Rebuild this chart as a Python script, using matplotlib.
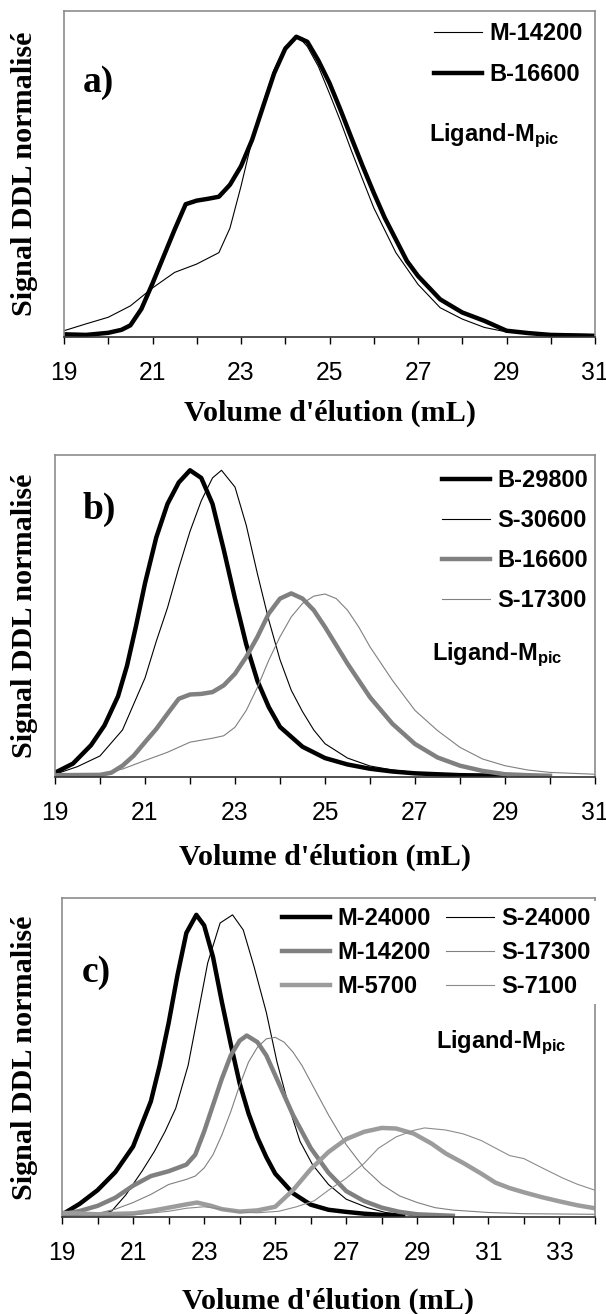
import matplotlib
matplotlib.use('Agg')
import matplotlib.pyplot as plt

plt.rcParams['font.family'] = 'Liberation Sans'
plt.rcParams['mathtext.fontset'] = 'custom'
plt.rcParams['mathtext.rm'] = 'Liberation Sans:bold'
plt.rcParams['mathtext.it'] = 'Liberation Sans:bold'
plt.rcParams['mathtext.bf'] = 'Liberation Sans:bold'

# ---- panel a) ----
b16600_a_x = [19.0, 19.5, 20.0, 20.3, 20.5, 20.75, 21.0, 21.25, 21.5, 21.75, 22.0, 22.25, 22.5, 22.75,
              23.0, 23.25, 23.5, 23.75, 24.0, 24.25, 24.5, 24.75, 25.0, 25.25, 25.5, 25.75, 26.0,
              26.25, 26.5, 26.75, 27.0, 27.5, 28.0, 28.5, 29.0, 29.5, 30.0, 31.0]
b16600_a_y = [0.005, 0.003, 0.01, 0.02, 0.035, 0.09, 0.175, 0.265, 0.355, 0.44, 0.452, 0.458, 0.465, 0.505,
              0.567, 0.655, 0.767, 0.878, 0.96, 1.0, 0.983, 0.92, 0.845, 0.755, 0.66, 0.567, 0.478,
              0.394, 0.322, 0.25, 0.2, 0.122, 0.078, 0.05, 0.017, 0.009, 0.003, 0.0]
m14200_a_x = [19.0, 19.5, 20.0, 20.5, 21.0, 21.5, 22.0, 22.5, 22.75, 23.0, 23.25, 23.5, 23.75, 24.0,
              24.3, 24.5, 24.75, 25.0, 25.25, 25.5, 25.75, 26.0, 26.5, 27.0, 27.5, 28.0, 28.5, 29.0,
              30.0, 31.0]
m14200_a_y = [0.017, 0.04, 0.062, 0.1, 0.16, 0.212, 0.24, 0.278, 0.36, 0.5, 0.655, 0.778, 0.89, 0.967,
              1.0, 0.967, 0.9, 0.81, 0.717, 0.617, 0.522, 0.428, 0.278, 0.172, 0.094, 0.056, 0.028, 0.013,
              0.006, 0.004]

# ---- panel b) ----
b29800_x = [19.0, 19.4, 19.8, 20.1, 20.4, 20.6, 20.8, 21.0, 21.25, 21.5, 21.75, 22.0, 22.25, 22.5,
            22.75, 23.0, 23.25, 23.5, 23.75, 24.0, 24.5, 25.0, 25.5, 26.0, 26.5, 27.0, 28.0, 29.0]
b29800_y = [0.01, 0.04, 0.1, 0.165, 0.26, 0.36, 0.49, 0.63, 0.78, 0.89, 0.96, 1.0, 0.975, 0.89,
            0.74, 0.58, 0.43, 0.31, 0.225, 0.16, 0.095, 0.058, 0.037, 0.023, 0.014, 0.008, 0.002, 0.0]
s30600_x = [19.0, 19.5, 20.0, 20.5, 21.0, 21.25, 21.5, 21.75, 22.0, 22.25, 22.5, 22.7, 23.0, 23.25,
            23.5, 23.75, 24.0, 24.25, 24.5, 24.75, 25.0, 25.5, 26.0, 26.5, 27.0, 28.0, 29.0]
s30600_y = [0.005, 0.03, 0.065, 0.15, 0.32, 0.44, 0.55, 0.68, 0.8, 0.9, 0.975, 1.0, 0.945, 0.82,
            0.66, 0.51, 0.38, 0.28, 0.21, 0.15, 0.105, 0.058, 0.032, 0.019, 0.011, 0.003, 0.0]
b16600_b_x = [19.0, 20.0, 20.25, 20.5, 20.75, 21.0, 21.25, 21.5, 21.75, 22.0, 22.25, 22.5, 22.75, 23.0,
              23.25, 23.5, 23.75, 24.0, 24.25, 24.5, 24.75, 25.0, 25.25, 25.5, 26.0, 26.5, 27.0, 27.5,
              28.0, 28.5, 29.0, 29.5, 30.0]
b16600_b_y = [0.002, 0.003, 0.01, 0.033, 0.066, 0.11, 0.153, 0.203, 0.252, 0.266, 0.268, 0.274, 0.296, 0.334,
              0.389, 0.455, 0.531, 0.58, 0.597, 0.58, 0.542, 0.487, 0.427, 0.367, 0.257, 0.17, 0.104, 0.06,
              0.033, 0.016, 0.005, 0.002, 0.0]
s17300_b_x = [19.0, 20.0, 20.5, 21.0, 21.5, 22.0, 22.5, 22.75, 23.0, 23.25, 23.5, 23.75, 24.0, 24.25,
              24.5, 24.75, 25.0, 25.25, 25.5, 25.75, 26.0, 26.5, 27.0, 27.5, 28.0, 28.5, 29.0, 29.5,
              30.0, 30.5, 31.0]
s17300_b_y = [0.002, 0.005, 0.022, 0.05, 0.077, 0.11, 0.123, 0.131, 0.159, 0.214, 0.29, 0.378, 0.455, 0.52,
              0.564, 0.588, 0.595, 0.58, 0.542, 0.487, 0.422, 0.312, 0.214, 0.148, 0.093, 0.055, 0.033, 0.019,
              0.011, 0.008, 0.005]

# ---- panel c) ----
m24000_x = [19.0, 19.5, 20.0, 20.5, 21.0, 21.5, 21.75, 22.0, 22.25, 22.5, 22.78, 23.0, 23.25, 23.5,
            23.75, 24.0, 24.25, 24.5, 24.75, 25.0, 25.5, 26.0, 26.5, 27.0, 27.5, 28.0, 28.6]
m24000_y = [0.004, 0.04, 0.085, 0.145, 0.23, 0.38, 0.5, 0.64, 0.8, 0.94, 1.0, 0.965, 0.86, 0.71,
            0.57, 0.44, 0.34, 0.26, 0.195, 0.14, 0.075, 0.037, 0.02, 0.013, 0.007, 0.003, 0.0]
s24000_x = [19.0, 20.0, 20.4, 20.8, 21.25, 21.6, 21.9, 22.2, 22.55, 22.8, 23.1, 23.45, 23.8, 24.1,
            24.4, 24.75, 25.05, 25.4, 25.7, 26.05, 26.5, 27.0, 27.6, 28.1, 29.0]
s24000_y = [0.0, 0.003, 0.016, 0.07, 0.148, 0.214, 0.28, 0.357, 0.5, 0.654, 0.84, 0.973, 1.0, 0.95,
            0.83, 0.676, 0.511, 0.357, 0.247, 0.17, 0.104, 0.055, 0.027, 0.011, 0.0]
m14200_c_x = [19.0, 19.5, 20.0, 20.5, 21.0, 21.5, 22.0, 22.5, 22.75, 23.0, 23.25, 23.5, 23.75, 24.0,
              24.2, 24.5, 24.75, 25.0, 25.25, 25.5, 26.0, 26.5, 27.0, 27.5, 28.0, 28.5, 29.0, 30.0]
m14200_c_y = [0.005, 0.016, 0.033, 0.06, 0.1, 0.132, 0.148, 0.17, 0.203, 0.28, 0.368, 0.456, 0.533, 0.582,
              0.599, 0.577, 0.533, 0.467, 0.401, 0.335, 0.225, 0.143, 0.082, 0.049, 0.027, 0.013, 0.005, 0.0]
s17300_c_x = [19.0, 20.0, 20.5, 21.0, 21.5, 22.0, 22.5, 22.75, 23.0, 23.25, 23.5, 23.75, 24.0, 24.25,
              24.5, 24.75, 25.0, 25.25, 25.5, 25.75, 26.0, 26.5, 27.0, 27.5, 28.0, 28.5, 29.0, 29.5,
              30.0, 31.0, 32.0, 34.0]
s17300_c_y = [0.0, 0.008, 0.022, 0.044, 0.071, 0.104, 0.121, 0.132, 0.159, 0.203, 0.269, 0.346, 0.434, 0.511,
              0.56, 0.588, 0.593, 0.577, 0.544, 0.5, 0.445, 0.335, 0.236, 0.159, 0.104, 0.066, 0.044, 0.027,
              0.019, 0.011, 0.007, 0.005]
m5700_x = [19.0, 20.0, 21.0, 21.5, 22.0, 22.5, 22.8, 23.2, 23.5, 24.0, 24.5, 25.0, 25.5, 26.0, 26.5,
           27.0, 27.5, 28.0, 28.4, 28.9, 29.4, 29.8, 30.3, 30.8, 31.2, 31.6, 32.0, 32.5, 33.0, 33.5, 34.0]
m5700_y = [0.01, 0.005, 0.008, 0.016, 0.027, 0.038, 0.044, 0.033, 0.022, 0.014, 0.018, 0.03, 0.085, 0.155,
           0.212, 0.255, 0.279, 0.292, 0.29, 0.273, 0.24, 0.207, 0.175, 0.14, 0.11, 0.092, 0.078, 0.062,
           0.048, 0.035, 0.025]
s7100_x = [19.0, 20.0, 21.0, 22.0, 22.5, 23.0, 23.5, 24.0, 24.5, 25.1, 25.6, 26.1, 26.5, 27.0, 27.5,
           27.9, 28.4, 28.9, 29.2, 29.8, 30.3, 30.8, 31.2, 31.6, 32.0, 32.5, 33.1, 33.5, 34.0]
s7100_y = [0.0, 0.0, 0.003, 0.015, 0.025, 0.03, 0.022, 0.012, 0.01, 0.015, 0.03, 0.05, 0.085, 0.125, 0.174,
           0.224, 0.262, 0.284, 0.292, 0.285, 0.272, 0.25, 0.225, 0.2, 0.19, 0.16, 0.125, 0.105, 0.085]

W, H = 606, 1314
fig = plt.figure(figsize=(W / 100, H / 100), dpi=100)

serif = dict(family='Liberation Serif', weight='bold')
leg_font = {'family': 'Liberation Sans', 'weight': 'bold', 'size': 17}
THICK, THIN = 3.2, 0.8


def make_axes(left, right, top, bottom, xmax, ymax, xpad, tag, tag_xy, lig_xy):
    ax = fig.add_axes([left / W, 1 - bottom / H, (right - left) / W, (bottom - top) / H])
    ax.set_xlim(19, xmax)
    ax.set_ylim(-0.004, ymax)
    ax.set_xticks(list(range(19, xmax + 1, 2)))
    ax.set_xticks(list(range(19, xmax + 1)), minor=True)
    ax.tick_params(axis='x', which='both', direction='out', length=5, width=1, color='black',
                   labelsize=17.7, pad=12.5)
    ax.set_yticks([])
    for s in ['top', 'right', 'left']:
        ax.spines[s].set_color('#8c8c8c')
        ax.spines[s].set_linewidth(1.2)
    ax.spines['bottom'].set_color('#303030')
    ax.spines['bottom'].set_linewidth(1.2)
    ax.set_xlabel("Volume d'élution (mL)", fontsize=21.7, labelpad=xpad, **serif)
    fig.text(25 / W, 1 - (top + bottom) / 2 / H, 'Signal DDL normalisé', rotation=90,
             ha='center', va='center', fontsize=21.7, **serif)
    ax.text(tag_xy[0], tag_xy[1], tag, transform=ax.transAxes, ha='center', va='center',
            fontsize=27, **serif)
    ax.text(lig_xy[0], lig_xy[1], r'Ligand-M$_{\mathrm{pic}}$', transform=ax.transAxes,
            ha='left', va='baseline', fontsize=17, fontweight='bold')
    return ax


# a)
ax = make_axes(64, 595, 11, 337, 31, 1.086, 10, 'a)', (0.064, 0.782), (0.687, 0.6))
h2, = ax.plot(b16600_a_x, b16600_a_y, color='black', lw=THICK, label='B-16600')
h1, = ax.plot(m14200_a_x, m14200_a_y, color='black', lw=THIN, label='M-14200')
ax.legend(handles=[h1, h2], loc='upper right', bbox_to_anchor=(0.977, 0.965), frameon=False,
          prop=leg_font, handlelength=2.03, handletextpad=0.3, labelspacing=0.76,
          borderpad=0, borderaxespad=0)

# b)
ax = make_axes(55, 595, 455, 777, 31, 1.05, 13, 'b)', (0.082, 0.832), (0.698, 0.362))
h1, = ax.plot(b29800_x, b29800_y, color='black', lw=THICK, label='B-29800')
h2, = ax.plot(s30600_x, s30600_y, color='black', lw=THIN, label='S-30600')
h3, = ax.plot(b16600_b_x, b16600_b_y, color='#808080', lw=THICK, label='B-16600')
h4, = ax.plot(s17300_b_x, s17300_b_y, color='#808080', lw=THIN, label='S-17300')
ax.legend(handles=[h1, h2, h3, h4], loc='upper right', bbox_to_anchor=(0.987, 0.955), frameon=False,
          prop=leg_font, handlelength=2.03, handletextpad=0.3, labelspacing=0.72,
          borderpad=0, borderaxespad=0)

# c)
ax = make_axes(62, 595, 898, 1217, 34, 1.056, 16, 'c)', (0.065, 0.768), (0.702, 0.531))
h1, = ax.plot(m24000_x, m24000_y, color='black', lw=THICK, label='M-24000')
h4, = ax.plot(s24000_x, s24000_y, color='black', lw=THIN, label='S-24000')
h2, = ax.plot(m14200_c_x, m14200_c_y, color='#808080', lw=THICK, label='M-14200')
h5, = ax.plot(s17300_c_x, s17300_c_y, color='#808080', lw=THIN, label='S-17300')
h3, = ax.plot(m5700_x, m5700_y, color='#9c9c9c', lw=THICK, label='M-5700')
h6, = ax.plot(s7100_x, s7100_y, color='#8c8c8c', lw=THIN, label='S-7100')
leg = ax.legend(handles=[h1, h2, h3, h4, h5, h6], ncol=2, loc='upper right',
                bbox_to_anchor=(1.002, 0.99), frameon=True, fancybox=False, framealpha=1,
                facecolor='white', edgecolor='white', prop=leg_font, handlelength=2.03,
                handletextpad=0.3, labelspacing=0.47, columnspacing=0.65,
                borderpad=0.25, borderaxespad=0)
leg.get_frame().set_linewidth(0)
ax.spines['top'].set_zorder(6)

fig.savefig('out.png', dpi=100)
